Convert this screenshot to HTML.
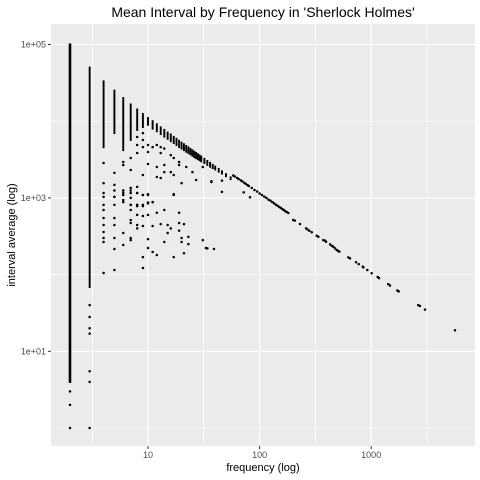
<!DOCTYPE html>
<html><head><meta charset="utf-8"><style>
body{margin:0;background:#fff;}
svg{display:block;font-family:"Liberation Sans",sans-serif;}
</style></head><body>
<svg id="chart" width="480" height="480" viewBox="0 0 480 480">
<rect x="0" y="0" width="480" height="480" fill="#fff"/>
<rect x="51" y="24" width="424" height="422" fill="#ebebeb"/>
<g id="grid"></g>
<g id="marks"></g>
<g id="axes"></g>
<text x="263" y="17" text-anchor="middle" font-size="14" fill="#000">Mean Interval by Frequency in 'Sherlock Holmes'</text>
<text x="263" y="471" text-anchor="middle" font-size="11" fill="#000">frequency (log)</text>
<text x="0" y="0" transform="translate(15,235) rotate(-90)" text-anchor="middle" font-size="11" fill="#000">interval average (log)</text>
</svg>
<script>
const xTicks=[10,100,1000];
const xTickLabels=["10","100","1000"];
const xMinor=[3.162,31.62,316.2,3162];
const yTicks=[10,1000,100000];
const yTickLabels=["1e+01","1e+03","1e+05"];
const yMinor=[1,100,10000];
// dense columns: frequency, top value, bottom value
const colFreq=[2,3,4,5,6,7,8,9,10,11,12,13,14,15,16,17,18,19,20,21,22,23,24,25,26,27,28,29,30,32,34,36,38,40,43,46,50,55];
const colTop=[100000,50000,33000,25000,20000,16500,14200,12400,11000,10000,9100,8300,7700,7100,6700,6250,5900,5550,5250,5000,4750,4550,4350,4170,4000,3850,3700,3570,3450,3230,3030,2860,2700,2560,2380,2220,2040,1850];
const colBottom=[4,69,4600,7000,4200,5700,7700,8400,9000,8000,7400,6800,6300,5900,5500,5200,4900,4600,4400,4200,4000,3850,3700,3550,3400,3300,3200,3100,3000,2850,2700,2550,2450,2350,2200,2080,1920,1760];
// scattered points: frequency and interval average
const ptFreq=[2,2,2,3,3,3,3,3,3,3,
4,4,4,4,4,4,4,4,4,4,4,4,
5,5,5,5,5,5,5,5,5,5,5,
6,6,6,6,6,6,6,6,6,6,
7,7,7,7,7,7,7,7,7,7,7,7,7,
8,8,8,8,8,8,8,8,8,8,8,8,
9,9,9,9,9,9,9,9,9,9,9,9,
10,10,10,10,10,10,10,10,10,10,
11,11,11,11,11,12,12,12,12,12,13,13,13,13,14,14,14,14,14,15,15,16,16,16,17,17,17,17,17,19,19,19,19,19,20,20,20,21,21,22,23,23,25,27,31,31,33,34,37,37,39,46,46,72,82,
58,60,63,65,68,70,73,75,78,80,85,90,95,100,105,110,115,120,125,130,135,140,145,150,155,160,165,170,175,
181,200,207,230,261,268,279,293,325,336,372,386,394,428,443,458,474,491,507,518,624,646,731,773,840,851,923,1010,1143,1175,1422,1473,1713,1763,2641,2735,3033,5630];
const ptVal=[3.0,2.0,1.0,40,28,20,17,5.5,4.0,1.0,
2850,1560,1160,1030,810,695,547,443,359,300,266,105,
2120,1480,1250,1030,810,547,443,300,216,115,1030,
2940,2690,1250,1090,940,1160,880,348,243,1250,
3310,2310,1350,1160,1000,810,695,515,471,300,282,1250,810,
6220,4890,3850,1390,1160,810,780,600,443,400,1160,810,
7000,5690,4600,1990,1090,810,780,580,430,169,122,1090,
4890,3960,2770,1120,870,850,600,290,222,1090,
4600,880,430,197,880,4890,2530,1870,640,180,4600,3850,1820,455,4400,2690,2170,695,266,443,348,3610,2170,400,3310,1990,1120,1090,169,2940,2690,640,471,375,1560,300,266,455,190,2530,310,250,2170,1710,2530,282,222,220,1610,1650,216,1680,1200,1180,1020,
1960,1900,1820,1760,1690,1640,1570,1530,1470,1430,1350,1270,1210,1140,1090,1040,1000,950,920,880,850,815,790,760,740,715,695,670,655,
635,515,505,457,401,389,373,356,321,312,282,277,268,248,238,231,220,209,203,199,168,163,145,137,127,124,115,104,93,90,75,72,62,60.5,40,39,35,18.8];

const NS="http://www.w3.org/2000/svg";
const X0=148,XD=111.6,Y0=351.3,YD=76.7;
function xs(f){return X0+XD*(Math.log10(f)-1);}
function ys(v){return Y0-YD*(Math.log10(v)-1);}
function mk(tag,attrs,parent){const e=document.createElementNS(NS,tag);for(const k in attrs)e.setAttribute(k,attrs[k]);parent.appendChild(e);return e;}
const grid=document.getElementById('grid'),marks=document.getElementById('marks'),axes=document.getElementById('axes');
xMinor.forEach(t=>{const l=mk('line',{x1:xs(t),x2:xs(t),y1:24,y2:446,stroke:'#fff','stroke-width':0.6},grid);

});
yMinor.forEach(t=>{const l=mk('line',{x1:51,x2:475,y1:ys(t),y2:ys(t),stroke:'#fff','stroke-width':0.6},grid);

});
xTicks.forEach((t,i)=>{const l=mk('line',{x1:xs(t),x2:xs(t),y1:24,y2:446,stroke:'#fff','stroke-width':1.1},grid);


const tk=mk('line',{x1:xs(t),x2:xs(t),y1:446,y2:449,stroke:'#333','stroke-width':1},axes);


const tx=mk('text',{x:xs(t),y:458,'text-anchor':'middle','font-size':9,fill:'#4d4d4d'},axes);
tx.textContent=xTickLabels[i];

});
yTicks.forEach((t,i)=>{const l=mk('line',{x1:51,x2:475,y1:ys(t),y2:ys(t),stroke:'#fff','stroke-width':1.1},grid);


const tk=mk('line',{x1:48,x2:51,y1:ys(t),y2:ys(t),stroke:'#333','stroke-width':1},axes);


const tx=mk('text',{x:46,y:ys(t)+3,'text-anchor':'end','font-size':9,fill:'#4d4d4d'},axes);
tx.textContent=yTickLabels[i];

});
colFreq.forEach((f,i)=>{const w=f===2?2.6:1.9;const l=mk('line',{x1:xs(f),x2:xs(f),y1:ys(colTop[i])-1,y2:ys(colBottom[i])+1,stroke:'#000','stroke-width':w},marks);

});
ptFreq.forEach((f,i)=>{const c=mk('circle',{cx:xs(f),cy:ys(ptVal[i]),r:1.25,fill:'#000'},marks);

});
</script>
</body></html>
